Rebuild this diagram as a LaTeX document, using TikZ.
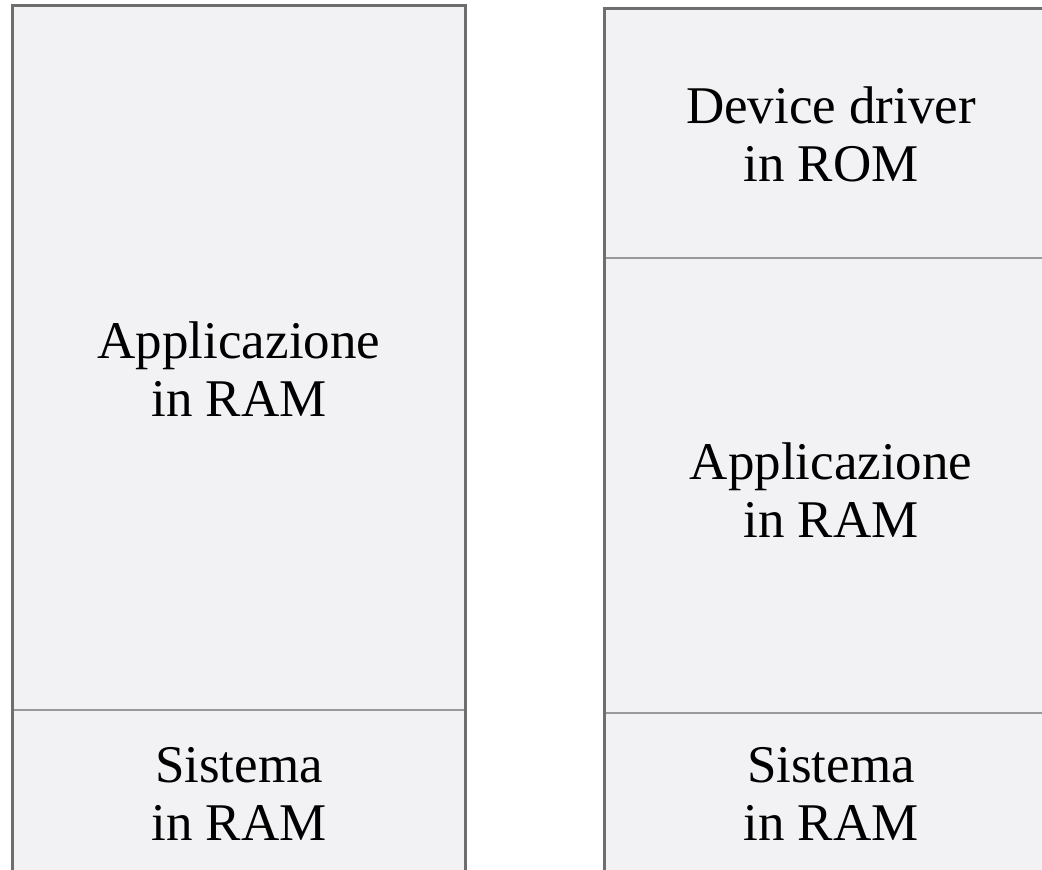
\documentclass[tikz,border=0pt]{standalone}
\usepackage{fontspec}
\setmainfont{Liberation Serif}
\definecolor{memfill}{HTML}{F2F2F4}
\definecolor{framegray}{HTML}{6E6E6E}
\definecolor{splitgray}{HTML}{999999}
\tikzset{
  memarea/.style={fill=memfill},
  memframe/.style={draw=framegray, line width=1.5pt},
  memsplit/.style={draw=splitgray, line width=1pt},
  memlabel/.style={align=center, inner sep=0pt, font=\fontsize{26.5}{29}\selectfont},
}

\begin{document}
\begin{tikzpicture}[x=0.5pt, y=-0.5pt]
	
	\useasboundingbox (0,0) rectangle (1042,870);
	\clip (0,0) rectangle (1042,870);
	
	% Memory map, first layout
	\fill[memarea] (12.5,5.5) rectangle (465.5,900);
	\draw[memsplit] (12.5,710) -- (465.5,710);
	\draw[memframe] (12.5,900) -- (12.5,5.5) -- (465.5,5.5) -- (465.5,900);
	
	% Memory map, second layout
	\fill[memarea] (604.5,8.5) rectangle (1070,900);
	\draw[memsplit] (604.5,258) -- (1070,258);
	\draw[memsplit] (604.5,713) -- (1070,713);
	\draw[memframe] (604.5,900) -- (604.5,8.5) -- (1070,8.5);
	
	% Labels
	\node[memlabel] (appleft) at (239,369) {Applicazione\\in RAM};
	\node[memlabel] (sysleft) at (239,794) {Sistema\\in RAM};
	\node[memlabel] (drvright) at (831,134) {Device driver\\in ROM};
	\node[memlabel] (appright) at (831,490) {Applicazione\\in RAM};
	\node[memlabel] (sysright) at (831,794) {Sistema\\in RAM};
	
\end{tikzpicture}
\end{document}
